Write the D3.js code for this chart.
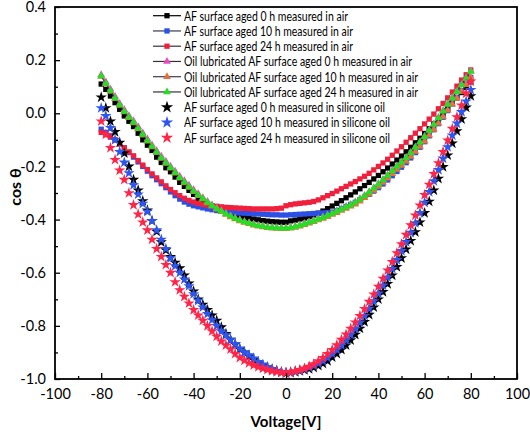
<!DOCTYPE html>
<html><head><meta charset="utf-8">
<script src="https://cdn.jsdelivr.net/npm/d3@7"></script>
<style>body{margin:0;background:#fff}svg{display:block}</style>
</head><body>
<svg id="c" width="530" height="434"></svg>
<script>
const voltage = [-80,-78,-76,-74,-72,-70,-68,-66,-64,-62,-60,-58,-56,-54,-52,-50,-48,-46,-44,-42,-40,-38,-36,-34,-32,-30,-28,-26,-24,-22,-20,-18,-16,-14,-12,-10,-8,-6,-4,-2,0,2,4,6,8,10,12,14,16,18,20,22,24,26,28,30,32,34,36,38,40,42,44,46,48,50,52,54,56,58,60,62,64,66,68,70,72,74,76,78,80];

const airAged0 = [0.11,0.09,0.065,0.04,0.015,-0.01,-0.03,-0.05,-0.075,-0.10,
 -0.12,-0.14,-0.165,-0.185,-0.205,-0.22,-0.24,-0.26,-0.275,-0.29,
 -0.305,-0.32,-0.33,-0.34,-0.35,-0.358,-0.365,-0.372,-0.378,-0.383,
 -0.387,-0.391,-0.395,-0.398,-0.401,-0.404,-0.406,-0.408,-0.409,-0.41,
 -0.41,-0.405,-0.402,-0.398,-0.394,-0.389,-0.383,-0.376,-0.368,-0.359,
 -0.349,-0.339,-0.329,-0.318,-0.307,-0.296,-0.284,-0.272,-0.26,-0.247,
 -0.234,-0.22,-0.206,-0.191,-0.176,-0.161,-0.145,-0.128,-0.111,-0.094,
 -0.076,-0.058,-0.04,-0.021,-0.002,0.018,0.038,0.058,0.078,0.098,
 0.118];
const airAged10 = [-0.06,-0.072,-0.085,-0.10,-0.115,-0.13,-0.148,-0.165,-0.183,-0.20,
 -0.218,-0.235,-0.25,-0.265,-0.28,-0.296,-0.31,-0.323,-0.334,-0.342,
 -0.348,-0.352,-0.356,-0.36,-0.363,-0.366,-0.368,-0.37,-0.372,-0.374,
 -0.375,-0.376,-0.377,-0.378,-0.379,-0.38,-0.381,-0.382,-0.382,-0.383,
 -0.383,-0.382,-0.381,-0.38,-0.379,-0.378,-0.377,-0.376,-0.375,-0.374,
 -0.372,-0.366,-0.359,-0.351,-0.343,-0.335,-0.325,-0.315,-0.305,-0.293,
 -0.28,-0.266,-0.251,-0.235,-0.219,-0.203,-0.186,-0.168,-0.148,-0.128,
 -0.107,-0.085,-0.062,-0.039,-0.015,0.01,0.035,0.06,0.085,0.11,
 0.135];
const airAged24 = [-0.072,-0.08,-0.09,-0.10,-0.115,-0.13,-0.145,-0.16,-0.178,-0.195,
 -0.212,-0.228,-0.243,-0.258,-0.273,-0.287,-0.299,-0.31,-0.32,-0.328,
 -0.334,-0.339,-0.343,-0.346,-0.348,-0.35,-0.352,-0.354,-0.355,-0.356,
 -0.357,-0.358,-0.359,-0.36,-0.36,-0.36,-0.36,-0.36,-0.359,-0.357,
 -0.348,-0.344,-0.341,-0.339,-0.337,-0.335,-0.332,-0.326,-0.318,-0.31,
 -0.302,-0.293,-0.284,-0.275,-0.266,-0.257,-0.247,-0.237,-0.226,-0.213,
 -0.2,-0.187,-0.173,-0.158,-0.142,-0.126,-0.109,-0.092,-0.075,-0.058,
 -0.04,-0.022,-0.003,0.017,0.037,0.058,0.08,0.102,0.125,0.145,
 0.163];
const lubAged0 = [0.145,0.118,0.091,0.063,0.037,0.013,-0.009,-0.029,-0.051,-0.074,
 -0.097,-0.119,-0.141,-0.162,-0.181,-0.199,-0.218,-0.237,-0.254,-0.271,
 -0.288,-0.303,-0.318,-0.332,-0.345,-0.356,-0.367,-0.377,-0.386,-0.394,
 -0.401,-0.407,-0.412,-0.417,-0.421,-0.424,-0.427,-0.429,-0.43,-0.431,
 -0.431,-0.429,-0.425,-0.42,-0.415,-0.409,-0.403,-0.397,-0.39,-0.383,
 -0.375,-0.367,-0.359,-0.351,-0.343,-0.334,-0.322,-0.309,-0.295,-0.28,
 -0.265,-0.249,-0.232,-0.215,-0.198,-0.183,-0.166,-0.147,-0.127,-0.107,
 -0.086,-0.063,-0.04,-0.016,0.01,0.035,0.059,0.083,0.108,0.133,
 0.159];
const lubAged10 = [0.138,0.11,0.083,0.055,0.029,0.005,-0.017,-0.037,-0.059,-0.082,
 -0.105,-0.127,-0.149,-0.17,-0.189,-0.207,-0.226,-0.245,-0.262,-0.279,
 -0.295,-0.31,-0.324,-0.338,-0.35,-0.361,-0.371,-0.381,-0.39,-0.398,
 -0.405,-0.411,-0.416,-0.421,-0.425,-0.428,-0.431,-0.433,-0.434,-0.435,
 -0.435,-0.433,-0.43,-0.425,-0.42,-0.414,-0.408,-0.402,-0.396,-0.389,
 -0.381,-0.374,-0.366,-0.358,-0.35,-0.342,-0.331,-0.318,-0.305,-0.291,
 -0.276,-0.261,-0.245,-0.228,-0.212,-0.197,-0.181,-0.163,-0.144,-0.125,
 -0.105,-0.083,-0.061,-0.038,-0.013,0.011,0.034,0.057,0.082,0.107,
 0.135];
const lubAged24 = [0.14,0.112,0.085,0.057,0.031,0.007,-0.015,-0.035,-0.057,-0.08,
 -0.103,-0.125,-0.147,-0.168,-0.187,-0.205,-0.224,-0.243,-0.26,-0.277,
 -0.293,-0.308,-0.322,-0.336,-0.348,-0.359,-0.369,-0.379,-0.388,-0.396,
 -0.403,-0.409,-0.414,-0.419,-0.423,-0.426,-0.429,-0.431,-0.432,-0.433,
 -0.433,-0.431,-0.427,-0.422,-0.417,-0.411,-0.405,-0.399,-0.392,-0.385,
 -0.377,-0.369,-0.361,-0.353,-0.345,-0.336,-0.324,-0.311,-0.297,-0.282,
 -0.267,-0.251,-0.234,-0.217,-0.2,-0.185,-0.168,-0.149,-0.129,-0.109,
 -0.088,-0.065,-0.042,-0.018,0.008,0.033,0.057,0.081,0.106,0.131,
 0.157];
const oilAged0 = [0.06,0.02,-0.03,-0.07,-0.11,-0.15,-0.20,-0.25,-0.29,-0.33,
 -0.365,-0.405,-0.445,-0.485,-0.515,-0.54,-0.562,-0.583,-0.61,-0.64,
 -0.67,-0.70,-0.72,-0.74,-0.76,-0.78,-0.805,-0.83,-0.852,-0.87,
 -0.888,-0.90,-0.915,-0.928,-0.94,-0.95,-0.958,-0.965,-0.97,-0.975,
 -0.978,-0.976,-0.973,-0.97,-0.966,-0.962,-0.957,-0.95,-0.942,-0.932,
 -0.918,-0.905,-0.89,-0.873,-0.854,-0.833,-0.81,-0.785,-0.758,-0.73,
 -0.70,-0.672,-0.642,-0.61,-0.578,-0.545,-0.512,-0.48,-0.447,-0.41,
 -0.375,-0.332,-0.29,-0.246,-0.202,-0.158,-0.113,-0.067,-0.022,0.022,
 0.065];
const oilAged10 = [0.02,-0.01,-0.055,-0.10,-0.145,-0.185,-0.225,-0.27,-0.305,-0.34,
 -0.37,-0.405,-0.44,-0.475,-0.51,-0.545,-0.575,-0.6,-0.625,-0.65,
 -0.68,-0.705,-0.73,-0.755,-0.778,-0.8,-0.82,-0.835,-0.852,-0.868,
 -0.885,-0.9,-0.91,-0.922,-0.935,-0.945,-0.954,-0.962,-0.968,-0.973,
 -0.976,-0.975,-0.972,-0.968,-0.963,-0.957,-0.95,-0.942,-0.932,-0.92,
 -0.905,-0.89,-0.873,-0.854,-0.833,-0.811,-0.787,-0.762,-0.735,-0.707,
 -0.678,-0.648,-0.617,-0.585,-0.552,-0.518,-0.484,-0.449,-0.413,-0.375,
 -0.336,-0.296,-0.255,-0.213,-0.17,-0.127,-0.083,-0.038,0.005,0.045,
 0.088];
const oilAged24 = [-0.03,-0.08,-0.13,-0.175,-0.215,-0.25,-0.30,-0.345,-0.38,-0.41,
 -0.44,-0.475,-0.51,-0.54,-0.57,-0.60,-0.635,-0.665,-0.69,-0.715,
 -0.74,-0.76,-0.78,-0.80,-0.82,-0.84,-0.858,-0.873,-0.888,-0.905,
 -0.92,-0.93,-0.94,-0.948,-0.955,-0.96,-0.965,-0.97,-0.973,-0.975,
 -0.976,-0.974,-0.97,-0.966,-0.96,-0.953,-0.944,-0.933,-0.92,-0.905,
 -0.89,-0.872,-0.852,-0.832,-0.81,-0.787,-0.762,-0.736,-0.709,-0.681,
 -0.652,-0.622,-0.591,-0.559,-0.526,-0.492,-0.457,-0.421,-0.384,-0.346,
 -0.307,-0.268,-0.228,-0.187,-0.145,-0.102,-0.058,-0.014,0.03,0.075,
 0.12];

const legendLabels = [
 "AF surface aged 0 h measured in air",
 "AF surface aged 10 h measured in air",
 "AF surface aged 24 h measured in air",
 "Oil lubricated AF surface aged 0 h measured in air",
 "Oil lubricated AF surface aged 10 h measured in air",
 "Oil lubricated AF surface aged 24 h measured in air",
 "AF surface aged 0 h measured in silicone oil",
 "AF surface aged 10 h measured in silicone oil",
 "AF surface aged 24 h measured in silicone oil"
];
const xTicks = [-100,-80,-60,-40,-20,0,20,40,60,80,100];
const yTicks = [0.4,0.2,0.0,-0.2,-0.4,-0.6,-0.8,-1.0];

const seriesValues = [airAged0, airAged10, airAged24, lubAged0, lubAged10, lubAged24, oilAged0, oilAged10, oilAged24];
const styles = [
 {sym:d3.symbolSquare, size:28, fill:"#000000", line:"#000000"},
 {sym:d3.symbolSquare, size:28, fill:"#2a50e6", line:"#3a3a50"},
 {sym:d3.symbolSquare, size:28, fill:"#f0203c", line:"#333333"},
 {sym:d3.symbolTriangle, size:26, fill:"#e84cc4", line:"#333333"},
 {sym:d3.symbolTriangle, size:26, fill:"#e8703a", line:"#3a3a50"},
 {sym:d3.symbolTriangle, size:26, fill:"#22e022", line:"#333333"},
 {sym:d3.symbolStar, size:40, fill:"#000000", line:null},
 {sym:d3.symbolStar, size:40, fill:"#2d55f0", line:null},
 {sym:d3.symbolStar, size:40, fill:"#ff2448", line:null}
];
// legend text widths (px)
const legendWidths = [164,169,169,228,234,234,201,206,206];

const svg = d3.select("#c");
const L=55, R=517, T=7, B=379;
const x = d3.scaleLinear().domain([-100,100]).range([L,R]);
const y = d3.scaleLinear().domain([-1.0,0.4]).range([B,T]);
const font = "Lato, 'Open Sans', sans-serif";
const hy = f => (d => f(d).replace("\u2212","-"));

const plot = svg.append("g");
seriesValues.forEach((vals,i)=>{
  const st = styles[i];
  const pts = voltage.map((v,k)=>[v, vals[k]]);
  if (st.line) {
    plot.append("path").datum(pts)
      .attr("d", d3.line().x(d=>x(d[0])).y(d=>y(d[1])))
      .attr("fill","none").attr("stroke",st.line).attr("stroke-width",0.8);
  }
  plot.append("g").selectAll("path").data(pts).join("path")
    .attr("transform", d=>`translate(${x(d[0])},${y(d[1])})`)
    .attr("d", d3.symbol().type(st.sym).size(st.size))
    .attr("fill", st.fill);
});

// axes
const xAxis = d3.axisBottom(x).tickValues(xTicks).tickSize(-6).tickPadding(10).tickFormat(hy(d3.format("d")));
const xMinor = d3.axisBottom(x).tickValues(d3.range(-90,100,20)).tickSize(-3).tickFormat("");
const yAxis = d3.axisLeft(y).tickValues(yTicks).tickSize(-5).tickPadding(9).tickFormat(hy(d3.format(".1f")));
const yMinor = d3.axisLeft(y).tickValues([0.3,0.1,-0.1,-0.3,-0.5,-0.7,-0.9]).tickSize(-3).tickFormat("");

function styleAxis(g){
  g.select(".domain").remove();
  g.selectAll("line").attr("stroke","#000").attr("stroke-width",1.3);
  g.selectAll("text").attr("font-family",font).attr("font-size",14.5).attr("fill","#000");
}
svg.append("g").attr("transform",`translate(0,${B})`).call(xAxis).call(styleAxis);
svg.append("g").attr("transform",`translate(0,${B})`).call(xMinor).call(styleAxis);
svg.append("g").attr("transform",`translate(${L},0)`).call(yAxis).call(styleAxis);
svg.append("g").attr("transform",`translate(${L},0)`).call(yMinor).call(styleAxis);

svg.append("rect").attr("x",L).attr("y",T).attr("width",R-L).attr("height",B-T)
  .attr("fill","none").attr("stroke","#000").attr("stroke-width",1.8);

svg.append("text").attr("x",(L+R)/2).attr("y",427).attr("text-anchor","middle")
  .attr("font-family",font).attr("font-weight","bold").attr("font-size",15).text("Voltage[V]");
svg.append("text").attr("transform",`translate(21,${(T+B)/2 - 6}) rotate(-90)`).attr("text-anchor","middle")
  .attr("font-family",font).attr("font-weight","bold").attr("font-size",16).text("cos  θ");

// legend
const lg = svg.append("g");
legendLabels.forEach((lab,i)=>{
  const st = styles[i];
  const yy = 15.7 + i*15.25;
  if (st.line) {
    lg.append("line").attr("x1",153).attr("x2",181).attr("y1",yy).attr("y2",yy)
      .attr("stroke",st.line).attr("stroke-width",1.2);
  }
  lg.append("path").attr("transform",`translate(167,${yy})`)
    .attr("d", d3.symbol().type(st.sym).size(st.line?st.size:48)).attr("fill",st.fill);
  lg.append("text").attr("x",184).attr("y",yy+4.8).attr("font-family",font)
    .attr("font-size",13.5).attr("fill","#000")
    .attr("textLength",legendWidths[i]).attr("lengthAdjust","spacingAndGlyphs").text(lab);
});
</script>
</body></html>
